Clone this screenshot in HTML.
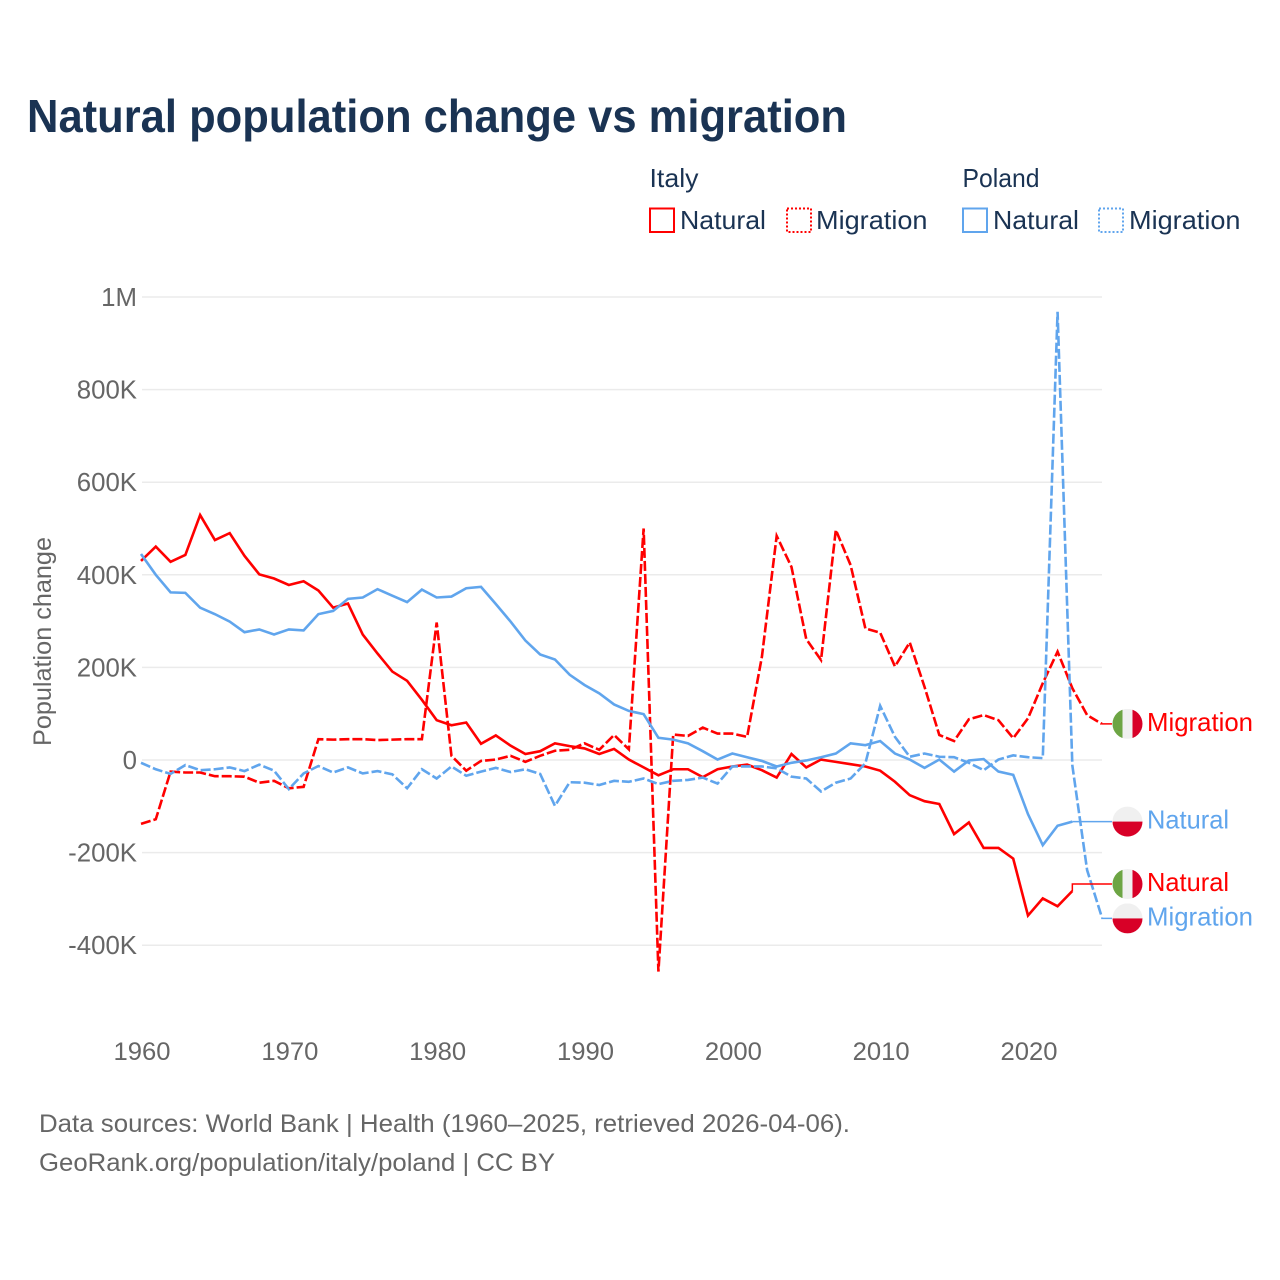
<!DOCTYPE html>
<html lang="en">
<head>
<meta charset="utf-8">
<title>Natural population change vs migration</title>
<style>
html,body{margin:0;padding:0;background:#fff;}
svg{display:block;font-family:"Liberation Sans",Arial,sans-serif;}
</style>
</head>
<body>
<svg id="chart" width="1280" height="1280" viewBox="0 0 1280 1280" xmlns="http://www.w3.org/2000/svg">
  <rect width="1280" height="1280" fill="#ffffff"/>
  <text x="27" y="132" font-size="46" font-weight="700" fill="#1a3353" textLength="820" lengthAdjust="spacingAndGlyphs">Natural population change vs migration</text>

  <g fill="#1a3353" font-size="26">
    <text x="649.5" y="187" textLength="49" lengthAdjust="spacingAndGlyphs">Italy</text>
    <text x="962.5" y="187" textLength="77" lengthAdjust="spacingAndGlyphs">Poland</text>
    <rect x="650" y="208.5" width="24" height="23.5" fill="none" stroke="#ff0000" stroke-width="2"/>
    <text x="680" y="229" textLength="86" lengthAdjust="spacingAndGlyphs">Natural</text>
    <rect x="787" y="208.5" width="24" height="23.5" fill="none" stroke="#ff0000" stroke-width="2" stroke-dasharray="2 2"/>
    <text x="816" y="229" textLength="111.5" lengthAdjust="spacingAndGlyphs">Migration</text>
    <rect x="963" y="208.5" width="24" height="23.5" fill="none" stroke="#60a5ed" stroke-width="2"/>
    <text x="993" y="229" textLength="86" lengthAdjust="spacingAndGlyphs">Natural</text>
    <rect x="1099" y="208.5" width="24" height="23.5" fill="none" stroke="#60a5ed" stroke-width="2" stroke-dasharray="2 2"/>
    <text x="1129" y="229" textLength="111.5" lengthAdjust="spacingAndGlyphs">Migration</text>
  </g>

  <g id="grid"></g>
  <g id="yaxis" font-size="25.8" fill="#666666"></g>
  <g id="xaxis" font-size="25" fill="#666666"></g>
  <text transform="translate(51,746) rotate(-90)" font-size="25" fill="#666666" textLength="209" lengthAdjust="spacingAndGlyphs">Population change</text>

  <g id="lines"></g>
  <g id="endlabels" font-size="26"></g>

  <g font-size="25" fill="#666666">
    <text x="39" y="1132" textLength="811" lengthAdjust="spacingAndGlyphs">Data sources: World Bank | Health (1960–2025, retrieved 2026-04-06).</text>
    <text x="39" y="1171" textLength="516" lengthAdjust="spacingAndGlyphs">GeoRank.org/population/italy/poland | CC BY</text>
  </g>
</svg>
<script>
// Values are in thousands of people
const years = [1960,1961,1962,1963,1964,1965,1966,1967,1968,1969,1970,1971,1972,1973,1974,1975,1976,1977,1978,1979,1980,1981,1982,1983,1984,1985,1986,1987,1988,1989,1990,1991,1992,1993,1994,1995,1996,1997,1998,1999,2000,2001,2002,2003,2004,2005,2006,2007,2008,2009,2010,2011,2012,2013,2014,2015,2016,2017,2018,2019,2020,2021,2022,2023,2024,2025];
const italyNatural = [430,461,428,443,529,475,490,441,401,392,378,386,366,329,338,271,230,191,171,130,86,75,81,35,53,31,13,19,36,30,25,13,24,1,-16,-33,-20,-20,-37,-20,-14,-10,-22,-38,13,-16,1,-4,-9,-14,-23,-47,-76,-89,-95,-160,-135,-190,-190,-213,-336,-299,-316,-283];
const italyMigration = [-138,-128,-25,-27,-27,-35,-35,-36,-49,-45,-61,-58,45,44,45,45,43,44,45,45,297,9,-23,-2,1,9,-4,9,20,22,36,22,54,23,500,-457,55,52,70,57,57,50,223,484,417,261,216,497,421,284,275,202,254,158,54,41,88,97,86,47,90,166,234,155,97,78];
const polandNatural = [445,400,362,361,329,315,299,276,282,271,282,280,315,322,348,351,369,355,341,368,351,353,371,374,337,299,258,228,217,184,162,144,120,106,99,48,44,36,19,1,14,6,-2,-14,-6,-1,6,14,36,32,41,14,1,-17,1,-25,-1,2,-25,-32,-117,-184,-142,-133];
const polandMigration = [-6,-20,-30,-11,-22,-20,-16,-24,-10,-23,-63,-29,-13,-27,-16,-29,-24,-31,-61,-20,-40,-14,-34,-25,-17,-26,-20,-30,-99,-48,-49,-54,-45,-47,-40,-52,-45,-43,-38,-51,-14,-14,-14,-18,-36,-40,-68,-49,-40,-7,117,50,7,14,7,6,-6,-22,1,10,6,4,968,-12,-238,-340];
const yTickValues = [1000,800,600,400,200,0,-200,-400];
const yTickLabels = ['1M','800K','600K','400K','200K','0','-200K','-400K'];
const xTickValues = [1960,1970,1980,1990,2000,2010,2020];
const xTickLabels = ['1960','1970','1980','1990','2000','2010','2020'];

const NS = 'http://www.w3.org/2000/svg';
const RED = '#ff0000';
const BLUE = '#60a5ed';
const xScale = function (year) { return 141 + (year - 1960) * (887 / 60); };
const yScale = function (value) { return 760 - value * 0.463; };

const grid = document.getElementById('grid');
const yaxis = document.getElementById('yaxis');
const xaxis = document.getElementById('xaxis');
const linesGroup = document.getElementById('lines');
const endLabels = document.getElementById('endlabels');

yTickValues.forEach(function (value, i) {
  const rule = document.createElementNS(NS, 'line');
  
  
  rule.setAttribute('x1', 142);
  rule.setAttribute('x2', 1102);
  rule.setAttribute('y1', yScale(value));
  rule.setAttribute('y2', yScale(value));
  rule.setAttribute('stroke', '#ebebeb');
  rule.setAttribute('stroke-width', 1.5);
  grid.appendChild(rule);

  const label = document.createElementNS(NS, 'text');
  
  
  label.setAttribute('x', 137);
  label.setAttribute('y', yScale(value) + 9);
  label.setAttribute('text-anchor', 'end');
  label.textContent = yTickLabels[i];
  yaxis.appendChild(label);
});

xTickValues.forEach(function (year, i) {
  const label = document.createElementNS(NS, 'text');
  
  
  label.setAttribute('x', xScale(year) + 1);
  label.setAttribute('y', 1060);
  label.setAttribute('text-anchor', 'middle');
  label.setAttribute('textLength', 57);
  label.setAttribute('lengthAdjust', 'spacingAndGlyphs');
  label.textContent = xTickLabels[i];
  xaxis.appendChild(label);
});

function linePath(values) {
  return values.map(function (v, i) {
    return (i === 0 ? 'M' : 'L') + xScale(years[i]).toFixed(2) + ' ' + yScale(v).toFixed(2);
  }).join(' ');
}

function drawLine(values, colour, dashed, name) {
  const path = document.createElementNS(NS, 'path');
  
  
  path.setAttribute('d', linePath(values));
  path.setAttribute('fill', 'none');
  path.setAttribute('stroke', colour);
  path.setAttribute('stroke-width', 2.6);
  path.setAttribute('stroke-linejoin', 'miter');
  if (dashed) { path.setAttribute('stroke-dasharray', '10 3'); }
  linesGroup.appendChild(path);
}

drawLine(italyNatural, RED, false, 'line-italy-natural');
drawLine(italyMigration, RED, true, 'line-italy-migration');
drawLine(polandNatural, BLUE, false, 'line-poland-natural');
drawLine(polandMigration, BLUE, true, 'line-poland-migration');

function drawEndLabel(values, colour, flag, text, width, dodge, name) {
  const last = values.length - 1;
  const lastX = xScale(years[last]);
  const lastY = yScale(values[last]);
  const labelY = lastY + dodge;

  const connector = document.createElementNS(NS, 'path');
  
  
  connector.setAttribute('d', 'M' + lastX + ' ' + lastY + ' L' + lastX + ' ' + labelY + ' L1112 ' + labelY);
  connector.setAttribute('fill', 'none');
  connector.setAttribute('stroke', colour);
  connector.setAttribute('stroke-width', 1.5);
  endLabels.appendChild(connector);

  const flagGroup = document.createElementNS(NS, 'g');
  
  
  const cx = 1127.5;
  const r = 15;
  const clipId = 'clip-' + name;
  const clip = document.createElementNS(NS, 'clipPath');
  clip.setAttribute('id', clipId);
  const clipCircle = document.createElementNS(NS, 'circle');
  clipCircle.setAttribute('cx', cx);
  clipCircle.setAttribute('cy', labelY);
  clipCircle.setAttribute('r', r);
  clip.appendChild(clipCircle);
  flagGroup.appendChild(clip);
  const stripes = flag === 'italy'
    ? [[cx - r, labelY - r, 10, 30, '#6da544'], [cx - r + 10, labelY - r, 10, 30, '#f0f0f0'], [cx - r + 20, labelY - r, 10, 30, '#d80027']]
    : [[cx - r, labelY - r, 30, 15, '#f0f0f0'], [cx - r, labelY, 30, 15, '#d80027']];
  stripes.forEach(function (s) {
    const band = document.createElementNS(NS, 'rect');
    band.setAttribute('x', s[0]);
    band.setAttribute('y', s[1]);
    band.setAttribute('width', s[2]);
    band.setAttribute('height', s[3]);
    band.setAttribute('fill', s[4]);
    band.setAttribute('clip-path', 'url(#' + clipId + ')');
    flagGroup.appendChild(band);
  });
  endLabels.appendChild(flagGroup);

  const label = document.createElementNS(NS, 'text');
  
  
  label.setAttribute('x', 1147);
  label.setAttribute('y', labelY + 7);
  label.setAttribute('fill', colour);
  label.setAttribute('textLength', width);
  label.setAttribute('lengthAdjust', 'spacingAndGlyphs');
  label.textContent = text;
  endLabels.appendChild(label);
}

drawEndLabel(italyMigration, RED, 'italy', 'Migration', 106, 0, 'end-label-italy-migration');
drawEndLabel(polandNatural, BLUE, 'poland', 'Natural', 82, 0, 'end-label-poland-natural');
drawEndLabel(italyNatural, RED, 'italy', 'Natural', 82, -7, 'end-label-italy-natural');
drawEndLabel(polandMigration, BLUE, 'poland', 'Migration', 106, 1, 'end-label-poland-migration');
</script>
</body>
</html>
